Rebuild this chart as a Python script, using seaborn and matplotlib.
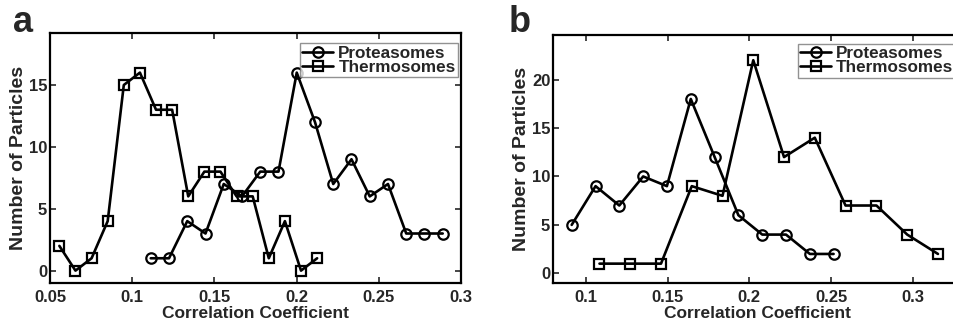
import pandas as pd
import matplotlib
matplotlib.use('Agg')
import matplotlib.pyplot as plt
import seaborn as sns

# data (bin centres vs counts)
a_prot_x = [0.1113, 0.1224, 0.1335, 0.1446, 0.1557, 0.1668, 0.1779, 0.1890, 0.2001,
            0.2112, 0.2223, 0.2334, 0.2445, 0.2556, 0.2667, 0.2778, 0.2889]
a_prot_n = [1, 1, 4, 3, 7, 6, 8, 8, 16, 12, 7, 9, 6, 7, 3, 3, 3]
a_therm_x = [0.0557, 0.0655, 0.0753, 0.0851, 0.0949, 0.1047, 0.1145, 0.1243, 0.1341,
             0.1439, 0.1537, 0.1635, 0.1733, 0.1831, 0.1929, 0.2027, 0.2125]
a_therm_n = [2, 0, 1, 4, 15, 16, 13, 13, 6, 8, 8, 6, 6, 1, 4, 0, 1]

b_prot_x = [0.0914, 0.1060, 0.1205, 0.1351, 0.1496, 0.1642, 0.1788, 0.1933, 0.2079,
            0.2224, 0.2370, 0.2515]
b_prot_n = [5, 9, 7, 10, 9, 18, 12, 6, 4, 4, 2, 2]
b_therm_x = [0.1084, 0.1272, 0.1460, 0.1648, 0.1836, 0.2024, 0.2212, 0.2400, 0.2588,
             0.2777, 0.2965, 0.3153]
b_therm_n = [1, 1, 1, 9, 8, 22, 12, 14, 7, 7, 4, 2]

a_xticks = [0.05, 0.1, 0.15, 0.2, 0.25, 0.3]
a_xlabels = ['0.05', '0.1', '0.15', '0.2', '0.25', '0.3']
a_yticks = [0, 5, 10, 15]
b_xticks = [0.1, 0.15, 0.2, 0.25, 0.3]
b_xlabels = ['0.1', '0.15', '0.2', '0.25', '0.3']
b_yticks = [0, 5, 10, 15, 20]

sns.set_style('ticks')
plt.rcParams['font.family'] = ['Liberation Sans', 'DejaVu Sans']
plt.rcParams['font.weight'] = 'bold'
plt.rcParams['xtick.direction'] = 'in'
plt.rcParams['ytick.direction'] = 'in'

fig = plt.figure(figsize=(9.54, 3.24), dpi=100)
ax_a = fig.add_axes([0.0524, 0.1265, 0.4308, 0.7716])
ax_b = fig.add_axes([0.5797, 0.1265, 0.4287, 0.7654])


def draw(ax, px, pn, tx, tn, xt, xl, yt, xlim, ylim):
    dp = pd.DataFrame({'cc': px, 'n': pn})
    dt = pd.DataFrame({'cc': tx, 'n': tn})
    kw = dict(color='k', linewidth=1.9, markersize=7.5, markerfacecolor='none',
              markeredgecolor='k', markeredgewidth=1.6)
    sns.lineplot(data=dp, x='cc', y='n', marker='o', label='Proteasomes', ax=ax, **kw)
    sns.lineplot(data=dt, x='cc', y='n', marker='s', label='Thermosomes', ax=ax, **kw)
    ax.set_xlim(*xlim)
    ax.set_ylim(*ylim)
    ax.set_xticks(xt)
    ax.set_xticklabels(xl, fontweight='bold')
    ax.set_yticks(yt)
    ax.set_yticklabels([str(v) for v in yt], fontweight='bold')
    ax.set_xlabel('Correlation Coefficient', fontsize=12.5, fontweight='bold', labelpad=1)
    ax.set_ylabel('Number of Particles', fontsize=14, fontweight='bold', labelpad=1)
    ax.tick_params(axis='both', which='both', top=True, right=True, length=4,
                   width=1.2, labelsize=12)
    ax.tick_params(axis='x', pad=5)
    ax.tick_params(axis='y', pad=2)
    for s in ax.spines.values():
        s.set_linewidth(1.6)
        s.set_color('k')


def legend(ax, loc, anchor):
    leg = ax.legend(loc=loc, bbox_to_anchor=anchor, borderaxespad=0,
                    fontsize=12.3, frameon=True, fancybox=False, edgecolor='#777777',
                    borderpad=0.15, labelspacing=-0.05, handlelength=1.8,
                    handletextpad=0.3)
    leg.get_frame().set_linewidth(1.0)
    for t in leg.get_texts():
        t.set_fontweight('bold')


draw(ax_a, a_prot_x, a_prot_n, a_therm_x, a_therm_n,
     a_xticks, a_xlabels, a_yticks, (0.05, 0.3), (-1, 19.2))
legend(ax_a, 'upper right', (0.993, 0.96))

draw(ax_b, b_prot_x, b_prot_n, b_therm_x, b_therm_n,
     b_xticks, b_xlabels, b_yticks, (0.08, 0.33), (-1, 24.6))
legend(ax_b, 'upper left', (0.598, 0.965))

fig.text(0.0136, 0.901, 'a', fontsize=26, fontweight='bold', va='baseline')
fig.text(0.5335, 0.901, 'b', fontsize=26, fontweight='bold', va='baseline')

fig.savefig('out.png', dpi=100)
